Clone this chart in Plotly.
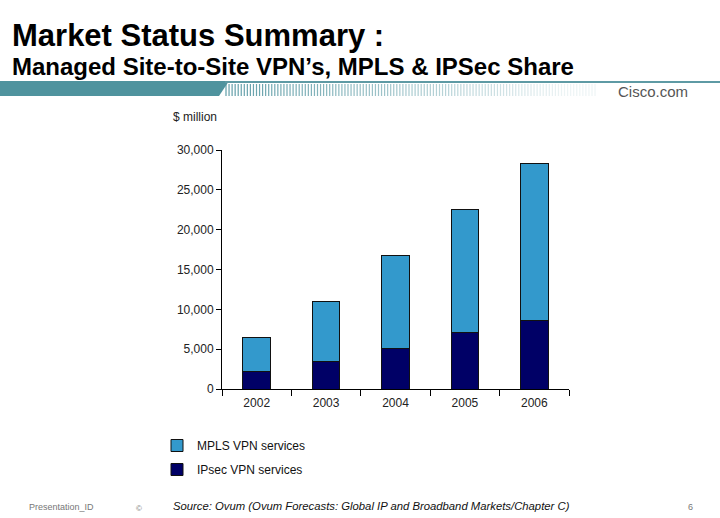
import plotly.graph_objects as go

years = ["2002", "2003", "2004", "2005", "2006"]
ipsec = [2260, 3510, 5100, 7030, 8540]
mpls = [4220, 7490, 11670, 15560, 19780]
y_ticks = [0, 5000, 10000, 15000, 20000, 25000, 30000]
y_tick_labels = ["0", "5,000", "10,000", "15,000", "20,000", "25,000", "30,000"]

W, H = 720, 518
L, R, T, B = 222, 569, 150, 389


def px(x):
    return (x - L) / (R - L)


def py(y):
    return (B - y) / (B - T)


fig = go.Figure()
fig.add_trace(go.Bar(x=years, y=ipsec, name="IPsec VPN services", legendgroup="b", legendrank=2,
                     marker=dict(color="#000066", line=dict(color="#111111", width=1)), width=0.4))
fig.add_trace(go.Bar(x=years, y=mpls, name="MPLS VPN services", legendgroup="a", legendrank=1,
                     marker=dict(color="#3399CC", line=dict(color="#111111", width=1)), width=0.4))

shapes = []
# solid teal band
shapes.append(dict(type="path", xref="paper", yref="paper",
                   path=f"M {px(0)} {py(81)} L {px(229)} {py(81)} L {px(219)} {py(96)} L {px(0)} {py(96)} Z",
                   fillcolor="#4F939E", line=dict(width=0), layer="above"))
# thin top line continuing right
shapes.append(dict(type="rect", xref="paper", yref="paper",
                   x0=px(225), x1=px(720), y0=py(83), y1=py(81),
                   fillcolor="#5E9AA4", line=dict(width=0), layer="above"))
# fading stripes
n = 122
for i in range(n):
    x = 226 + i * 3.05
    op = max(0.1, 0.9 * (1 - i / n) ** 0.9)
    shapes.append(dict(type="line", xref="paper", yref="paper",
                       x0=px(x), x1=px(x), y0=py(84), y1=py(96),
                       line=dict(color=f"rgba(79,147,158,{op:.3f})", width=1.2), layer="above"))

annotations = [
    dict(text="<b>Market Status Summary :</b>", x=px(10), y=py(35), xref="paper", yref="paper",
         xanchor="left", yanchor="middle", showarrow=False,
         font=dict(family="Liberation Sans, Arial", size=31, color="#000000")),
    dict(text="<b>Managed Site-to-Site VPN’s, MPLS &amp; IPSec Share</b>", x=px(10), y=py(66), xref="paper", yref="paper",
         xanchor="left", yanchor="middle", showarrow=False,
         font=dict(family="Liberation Sans, Arial", size=24, color="#000000")),
    dict(text="Cisco.com", x=px(616), y=py(92), xref="paper", yref="paper",
         xanchor="left", yanchor="middle", showarrow=False,
         font=dict(family="Liberation Sans, Arial", size=15, color="#555555")),
    dict(text="$ million", x=px(171), y=py(117), xref="paper", yref="paper",
         xanchor="left", yanchor="middle", showarrow=False,
         font=dict(family="Liberation Sans, Arial", size=12, color="#222222")),
    dict(text="Presentation_ID", x=px(27), y=py(507), xref="paper", yref="paper",
         xanchor="left", yanchor="middle", showarrow=False,
         font=dict(family="Liberation Sans, Arial", size=9, color="#777777")),
    dict(text="©", x=px(134), y=py(508), xref="paper", yref="paper",
         xanchor="left", yanchor="middle", showarrow=False,
         font=dict(family="Liberation Sans, Arial", size=8, color="#777777")),
    dict(text="<i>Source: Ovum (Ovum Forecasts: Global IP and Broadband Markets/Chapter C)</i>",
         x=px(171), y=py(506), xref="paper", yref="paper",
         xanchor="left", yanchor="middle", showarrow=False,
         font=dict(family="Liberation Sans, Arial", size=11.3, color="#111111")),
    dict(text="6", x=px(686), y=py(507), xref="paper", yref="paper",
         xanchor="left", yanchor="middle", showarrow=False,
         font=dict(family="Liberation Sans, Arial", size=9, color="#777777")),
]

fig.update_layout(
    width=W, height=H,
    margin=dict(l=L, r=W - R, t=T, b=H - B, autoexpand=False),
    paper_bgcolor="white", plot_bgcolor="white",
    barmode="stack", bargap=0.6,
    font=dict(family="Liberation Sans, Arial", size=12, color="#222222"),
    showlegend=True,
    legend=dict(x=px(157), y=py(431), xanchor="left", yanchor="top",
                traceorder="grouped", tracegroupgap=5,
                font=dict(size=12, color="#111111"), itemwidth=30,
                bgcolor="rgba(0,0,0,0)"),
    shapes=shapes,
    annotations=annotations,
)
fig.update_xaxes(showline=True, linecolor="#000000", linewidth=1, ticks="outside",
                 tickson="boundaries", ticklen=6, tickcolor="#000000", showgrid=False,
                 ticklabelstandoff=3,
                 tickfont=dict(size=12, color="#222222"), fixedrange=True)
fig.update_yaxes(range=[0, 30000], tickvals=y_ticks, ticktext=y_tick_labels,
                 showline=True, linecolor="#000000", linewidth=1, ticks="outside",
                 ticklen=5, tickcolor="#000000", showgrid=False, zeroline=False,
                 tickfont=dict(size=12, color="#222222"), fixedrange=True)

fig.write_html("out.html", config={"displayModeBar": False},
               post_script="document.body.style.margin='0';document.body.style.overflow='hidden';")
